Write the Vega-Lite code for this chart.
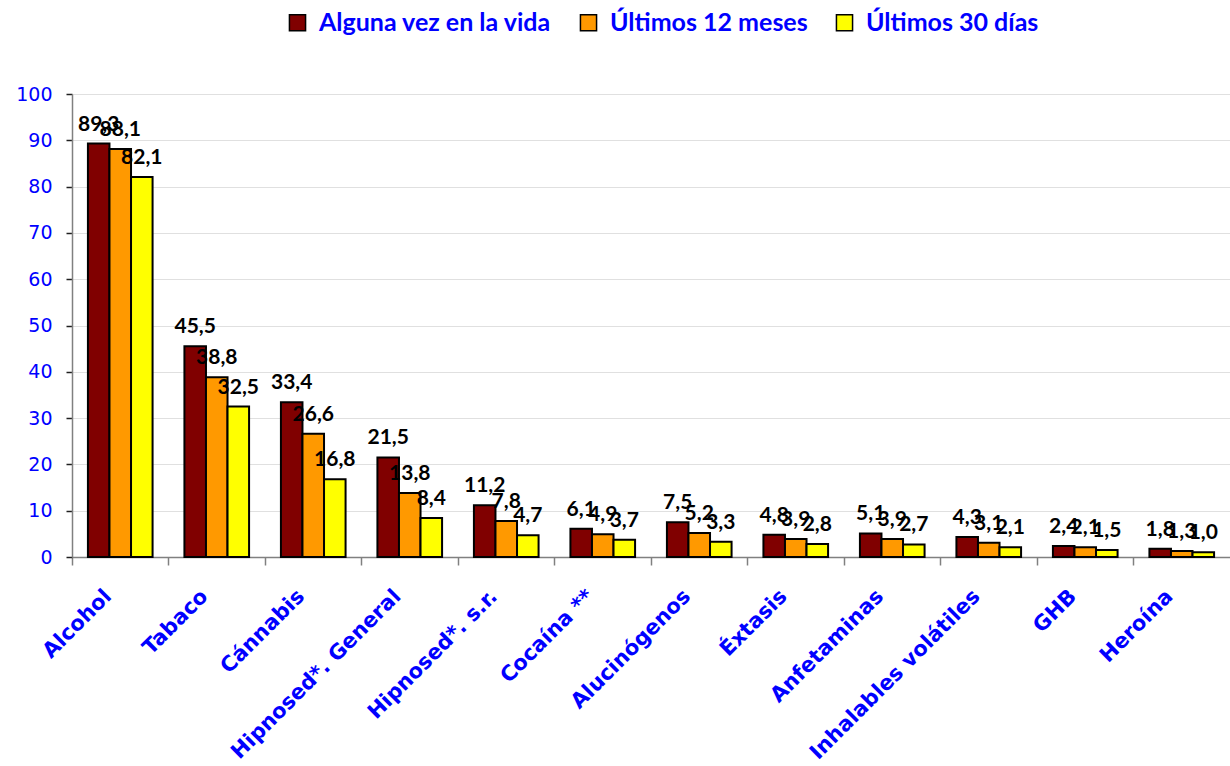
{
  "$schema": "https://vega.github.io/schema/vega-lite/v6.json",
  "width": 1158,
  "height": 463,
  "autosize": {"type": "none"},
  "padding": {"left": 72, "top": 94, "right": 0, "bottom": 209},
  "background": "white",
  "config": {
    "locale": {"number": {"decimal": ",", "thousands": ".", "grouping": [3], "currency": ["", " €"]}},
    "view": {"stroke": null},
    "font": "Lato"
  },
  "data": {
    "values": [
      {"sustancia": "Alcohol", "periodo": "Alguna vez en la vida", "valor": 89.3},
      {"sustancia": "Alcohol", "periodo": "Últimos 12 meses", "valor": 88.1},
      {"sustancia": "Alcohol", "periodo": "Últimos 30 días", "valor": 82.1},
      {"sustancia": "Tabaco", "periodo": "Alguna vez en la vida", "valor": 45.5},
      {"sustancia": "Tabaco", "periodo": "Últimos 12 meses", "valor": 38.8},
      {"sustancia": "Tabaco", "periodo": "Últimos 30 días", "valor": 32.5},
      {"sustancia": "Cánnabis", "periodo": "Alguna vez en la vida", "valor": 33.4},
      {"sustancia": "Cánnabis", "periodo": "Últimos 12 meses", "valor": 26.6},
      {"sustancia": "Cánnabis", "periodo": "Últimos 30 días", "valor": 16.8},
      {"sustancia": "Hipnosed*. General", "periodo": "Alguna vez en la vida", "valor": 21.5},
      {"sustancia": "Hipnosed*. General", "periodo": "Últimos 12 meses", "valor": 13.8},
      {"sustancia": "Hipnosed*. General", "periodo": "Últimos 30 días", "valor": 8.4},
      {"sustancia": "Hipnosed*. s.r.", "periodo": "Alguna vez en la vida", "valor": 11.2},
      {"sustancia": "Hipnosed*. s.r.", "periodo": "Últimos 12 meses", "valor": 7.8},
      {"sustancia": "Hipnosed*. s.r.", "periodo": "Últimos 30 días", "valor": 4.7},
      {"sustancia": "Cocaína **", "periodo": "Alguna vez en la vida", "valor": 6.1},
      {"sustancia": "Cocaína **", "periodo": "Últimos 12 meses", "valor": 4.9},
      {"sustancia": "Cocaína **", "periodo": "Últimos 30 días", "valor": 3.7},
      {"sustancia": "Alucinógenos", "periodo": "Alguna vez en la vida", "valor": 7.5},
      {"sustancia": "Alucinógenos", "periodo": "Últimos 12 meses", "valor": 5.2},
      {"sustancia": "Alucinógenos", "periodo": "Últimos 30 días", "valor": 3.3},
      {"sustancia": "Éxtasis", "periodo": "Alguna vez en la vida", "valor": 4.8},
      {"sustancia": "Éxtasis", "periodo": "Últimos 12 meses", "valor": 3.9},
      {"sustancia": "Éxtasis", "periodo": "Últimos 30 días", "valor": 2.8},
      {"sustancia": "Anfetaminas", "periodo": "Alguna vez en la vida", "valor": 5.1},
      {"sustancia": "Anfetaminas", "periodo": "Últimos 12 meses", "valor": 3.9},
      {"sustancia": "Anfetaminas", "periodo": "Últimos 30 días", "valor": 2.7},
      {"sustancia": "Inhalables volátiles", "periodo": "Alguna vez en la vida", "valor": 4.3},
      {"sustancia": "Inhalables volátiles", "periodo": "Últimos 12 meses", "valor": 3.1},
      {"sustancia": "Inhalables volátiles", "periodo": "Últimos 30 días", "valor": 2.1},
      {"sustancia": "GHB", "periodo": "Alguna vez en la vida", "valor": 2.4},
      {"sustancia": "GHB", "periodo": "Últimos 12 meses", "valor": 2.1},
      {"sustancia": "GHB", "periodo": "Últimos 30 días", "valor": 1.5},
      {"sustancia": "Heroína", "periodo": "Alguna vez en la vida", "valor": 1.8},
      {"sustancia": "Heroína", "periodo": "Últimos 12 meses", "valor": 1.3},
      {"sustancia": "Heroína", "periodo": "Últimos 30 días", "valor": 1.0}
    ]
  },
  "encoding": {
    "x": {
      "field": "sustancia",
      "type": "nominal",
      "sort": ["Alcohol", "Tabaco", "Cánnabis", "Hipnosed*. General", "Hipnosed*. s.r.", "Cocaína **", "Alucinógenos", "Éxtasis", "Anfetaminas", "Inhalables volátiles", "GHB", "Heroína"],
      "scale": {"paddingInner": 0.33, "paddingOuter": 0.165},
      "axis": {
        "title": null,
        "labelAngle": -45,
        "labelAlign": "right",
        "labelBaseline": "middle",
        "labelFontSize": 21,
        "labelFontWeight": "bold",
        "labelColor": "#0000FF",
        "labelPadding": 28,
        "labelOffset": -12,
        "labelFont": "DejaVu Sans",
        "labelLimit": 0,
        "bandPosition": -0.246,
        "tickColor": "#808080",
        "tickSize": 8,
        "tickWidth": 1.5,
        "domainColor": "#808080",
        "domainWidth": 1.5,
        "grid": false
      }
    },
    "xOffset": {
      "field": "periodo",
      "type": "nominal",
      "sort": ["Alguna vez en la vida", "Últimos 12 meses", "Últimos 30 días"],
      "scale": {"paddingInner": 0, "paddingOuter": 0}
    },
    "y": {
      "field": "valor",
      "type": "quantitative",
      "scale": {"domain": [0, 100], "nice": false},
      "axis": {
        "title": null,
        "values": [0, 10, 20, 30, 40, 50, 60, 70, 80, 90, 100],
        "labelFontSize": 19,
        "labelColor": "#0000FF",
        "labelFont": "DejaVu Sans",
        "labelPadding": 14,
        "tickColor": "#202020",
        "tickSize": 6,
        "tickWidth": 1.5,
        "domainColor": "#808080",
        "domainWidth": 1.5,
        "gridColor": "#e0e0e0"
      }
    }
  },
  "layer": [
    {
      "mark": {"type": "bar", "stroke": "black", "strokeWidth": 2},
      "encoding": {
        "color": {
          "field": "periodo",
          "type": "nominal",
          "sort": ["Alguna vez en la vida", "Últimos 12 meses", "Últimos 30 días"],
          "scale": {"domain": ["Alguna vez en la vida", "Últimos 12 meses", "Últimos 30 días"], "range": ["#800000", "#FF9900", "#FFFF00"]},
          "legend": {
            "title": null,
            "orient": "none",
            "direction": "horizontal",
            "legendX": 213,
            "legendY": -84,
            "symbolType": "square",
            "symbolSize": 260,
            "symbolStrokeColor": "black",
            "symbolStrokeWidth": 1.5,
            "labelFontSize": 25,
            "labelFontWeight": "bold",
            "labelColor": "#0000FF",
            "labelFont": "Lato",
            "labelLimit": 0,
            "columnPadding": 24,
            "labelOffset": 9
          }
        }
      }
    },
    {
      "mark": {"type": "text", "baseline": "bottom", "dy": -9, "fontSize": 21, "fontWeight": "bold", "font": "Lato", "color": "black"},
      "encoding": {
        "text": {"field": "valor", "type": "quantitative", "format": ".1f"}
      }
    }
  ]
}
